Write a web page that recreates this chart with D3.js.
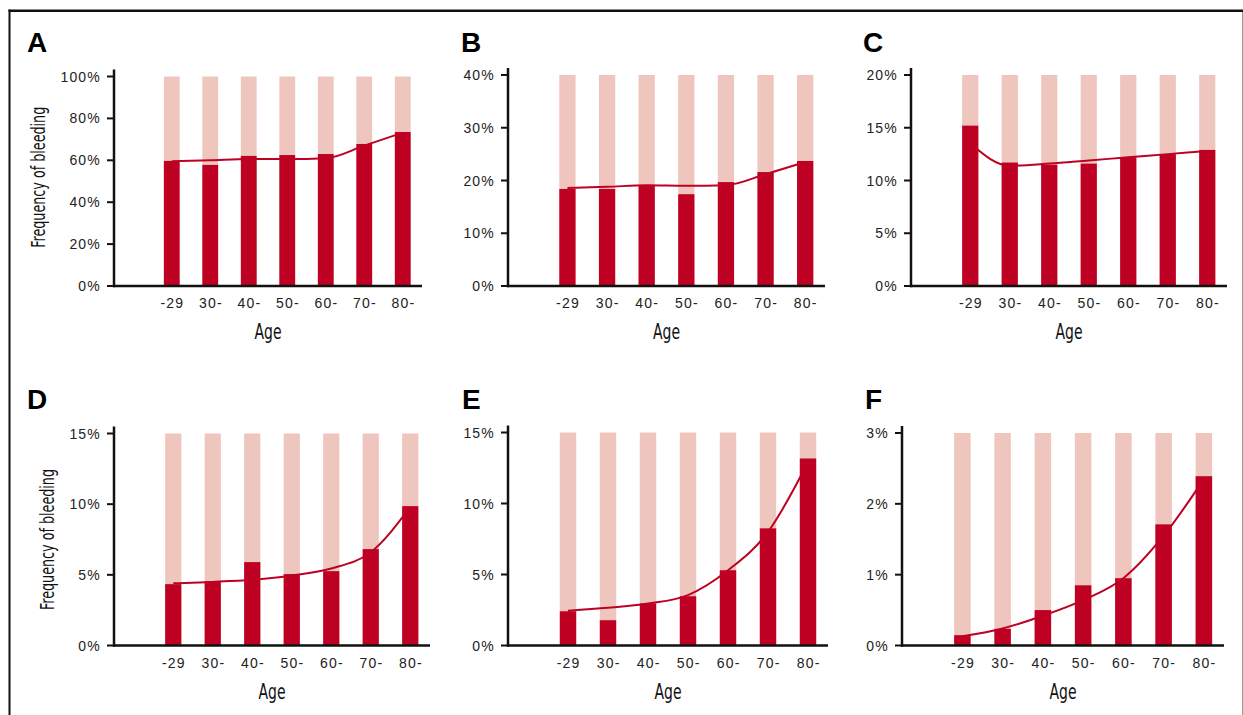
<!DOCTYPE html>
<html>
<head>
<meta charset="utf-8">
<script src="https://cdn.jsdelivr.net/npm/d3@7"></script>
<style>
  html, body { margin: 0; padding: 0; background: #fff; }
  svg { display: block; }
  .tick-label { font-family: "Liberation Sans", Arial, sans-serif; font-size: 14px; fill: #222; letter-spacing: 1.2px; }
  .cond { font-family: "Liberation Sans Narrow", "DejaVu Sans Condensed", "Arial Narrow", sans-serif; fill: #111; }
  .letter { font-family: "Liberation Sans", Arial, sans-serif; font-weight: bold; font-size: 28px; fill: #000; }
</style>
</head>
<body>
<svg id="chart"></svg>
<script>
// age groups on the x axis
const ages = ["-29", "30-", "40-", "50-", "60-", "70-", "80-"];
const panelLetters = ["A", "B", "C", "D", "E", "F"];

// y axis maximum and tick step for each panel (in %)
const yMax = [100, 40, 20, 15, 15, 3];
const yStep = [20, 10, 5, 5, 5, 1];

// observed frequency of bleeding (bars), %
const barA = [59.7, 57.8, 62.1, 62.5, 63.0, 67.8, 73.5];
const barB = [18.4, 18.4, 19.1, 17.4, 19.7, 21.6, 23.7];
const barC = [15.2, 11.7, 11.5, 11.6, 12.2, 12.5, 12.9];
const barD = [4.34, 4.55, 5.9, 5.05, 5.26, 6.82, 9.86];
const barE = [2.41, 1.78, 2.97, 3.47, 5.3, 8.25, 13.17];
const barF = [0.146, 0.235, 0.50, 0.85, 0.95, 1.71, 2.39];

// fitted curve values, %
const fitA = [59.5, 60.0, 60.6, 60.6, 61.0, 67.0, 73.2];
const fitB = [18.6, 18.8, 19.1, 19.0, 19.1, 21.2, 23.5];
const fitC = [13.5, 11.4, 11.6, 11.9, 12.2, 12.5, 12.8];
const fitD = [4.4, 4.5, 4.65, 4.95, 5.45, 6.6, 9.8];
const fitE = [2.45, 2.65, 2.95, 3.55, 5.3, 8.0, 12.9];
const fitF = [0.13, 0.24, 0.42, 0.64, 0.95, 1.55, 2.35];

const bars = [barA, barB, barC, barD, barE, barF];
const fits = [fitA, fitB, fitC, fitD, fitE, fitF];

const width = 1243;
const height = 715;
const dark = "#BE0023";
const light = "#EEC6BE";

// panel layout: axis x start/end, y of 0 and of max tick, letter position
const layout = [
    { x0: 114, x1: 422, yb: 286, yt: 76.5, lx: 27, ly: 52, ylab: 38 },
    { x0: 508, x1: 825, yb: 286, yt: 75, lx: 461, ly: 52 },
    { x0: 911, x1: 1227, yb: 286, yt: 75, lx: 863, ly: 52 },
    { x0: 114, x1: 430, yb: 645.5, yt: 433.5, lx: 27, ly: 409, ylab: 47 },
    { x0: 508, x1: 828, yb: 645.5, yt: 432.5, lx: 462, ly: 409 },
    { x0: 902, x1: 1224, yb: 645.5, yt: 433, lx: 865, ly: 409 }
];

const svg = d3.select("#chart")
    .attr("width", width)
    .attr("height", height);

svg.append("rect").attr("width", width).attr("height", height).attr("fill", "#fff");

// frame
svg.append("line").attr("x1", 8.5).attr("x2", width).attr("y1", 10.7).attr("y2", 10.7)
    .attr("stroke", "#111").attr("stroke-width", 2.5);
svg.append("line").attr("x1", 9.5).attr("x2", 9.5).attr("y1", 9.5).attr("y2", height)
    .attr("stroke", "#111").attr("stroke-width", 2);
svg.append("line").attr("x1", 1242.5).attr("x2", 1242.5).attr("y1", 12).attr("y2", height)
    .attr("stroke", "#999").attr("stroke-width", 1);

layout.forEach((p, i) => {
    const g = svg.append("g");
    const step = (p.x1 - p.x0) / 8;

    const x = d3.scaleBand()
        .domain(ages)
        .range([p.x0 + step, p.x1])
        .paddingInner(0.59)
        .paddingOuter(0.295);

    const y = d3.scaleLinear()
        .domain([0, yMax[i]])
        .range([p.yb, p.yt]);

    // background bars up to the max
    g.selectAll(".bg")
        .data(ages)
        .enter()
        .append("rect")
        .attr("x", a => x(a))
        .attr("width", x.bandwidth())
        .attr("y", y(yMax[i]))
        .attr("height", y(0) - y(yMax[i]))
        .attr("fill", light);

    // observed bars
    g.selectAll(".bar")
        .data(bars[i])
        .enter()
        .append("rect")
        .attr("x", (v, j) => x(ages[j]))
        .attr("width", x.bandwidth())
        .attr("y", v => y(v))
        .attr("height", v => y(0) - y(v))
        .attr("fill", dark);

    // fitted curve
    const line = d3.line()
        .x((v, j) => x(ages[j]) + x.bandwidth() / 2)
        .y(v => y(v))
        .curve(d3.curveMonotoneX);

    g.append("path")
        .datum(fits[i])
        .attr("d", line)
        .attr("fill", "none")
        .attr("stroke", dark)
        .attr("stroke-width", 2);

    // y axis
    const ticks = d3.range(0, yMax[i] + yStep[i] / 2, yStep[i]);
    g.append("line")
        .attr("x1", p.x0).attr("x2", p.x0)
        .attr("y1", p.yb + 1.2).attr("y2", p.yt - 7)
        .attr("stroke", "#111").attr("stroke-width", 2.5);
    g.selectAll(".ytick")
        .data(ticks)
        .enter()
        .append("line")
        .attr("x1", p.x0 - 7).attr("x2", p.x0)
        .attr("y1", t => y(t)).attr("y2", t => y(t))
        .attr("stroke", "#111").attr("stroke-width", 2);
    g.selectAll(".ylabel")
        .data(ticks)
        .enter()
        .append("text")
        .attr("class", "tick-label")
        .attr("x", p.x0 - 13)
        .attr("y", t => y(t))
        .attr("dy", "0.36em")
        .attr("text-anchor", "end")
        .text(t => t + "%");

    // x axis
    g.append("line")
        .attr("x1", p.x0 - 1).attr("x2", p.x1)
        .attr("y1", p.yb).attr("y2", p.yb)
        .attr("stroke", "#111").attr("stroke-width", 2.5);
    g.selectAll(".xlabel")
        .data(ages)
        .enter()
        .append("text")
        .attr("class", "tick-label")
        .attr("x", a => x(a) + x.bandwidth() / 2 + 0.6)
        .attr("y", p.yb + 22)
        .attr("text-anchor", "middle")
        .text(a => a);

    g.append("text")
        .attr("class", "cond")
        .attr("x", (p.x0 + p.x1) / 2)
        .attr("y", p.yb + 53)
        .attr("text-anchor", "middle")
        .attr("font-size", 21)
        .attr("textLength", 27)
        .attr("lengthAdjust", "spacingAndGlyphs")
        .text("Age");

    if (p.ylab) {
        g.append("text")
            .attr("class", "cond")
            .attr("transform", `translate(${p.ylab + 7},${(p.yb + p.yt) / 2 + (i === 0 ? -4 : 0)}) rotate(-90)`)
            .attr("text-anchor", "middle")
            .attr("font-size", 19)
            .attr("textLength", 141)
            .attr("lengthAdjust", "spacingAndGlyphs")
            .text("Frequency of bleeding");
    }

    g.append("text")
        .attr("class", "letter")
        .attr("x", p.lx)
        .attr("y", p.ly)
        .text(panelLetters[i]);
});
</script>
</body>
</html>
